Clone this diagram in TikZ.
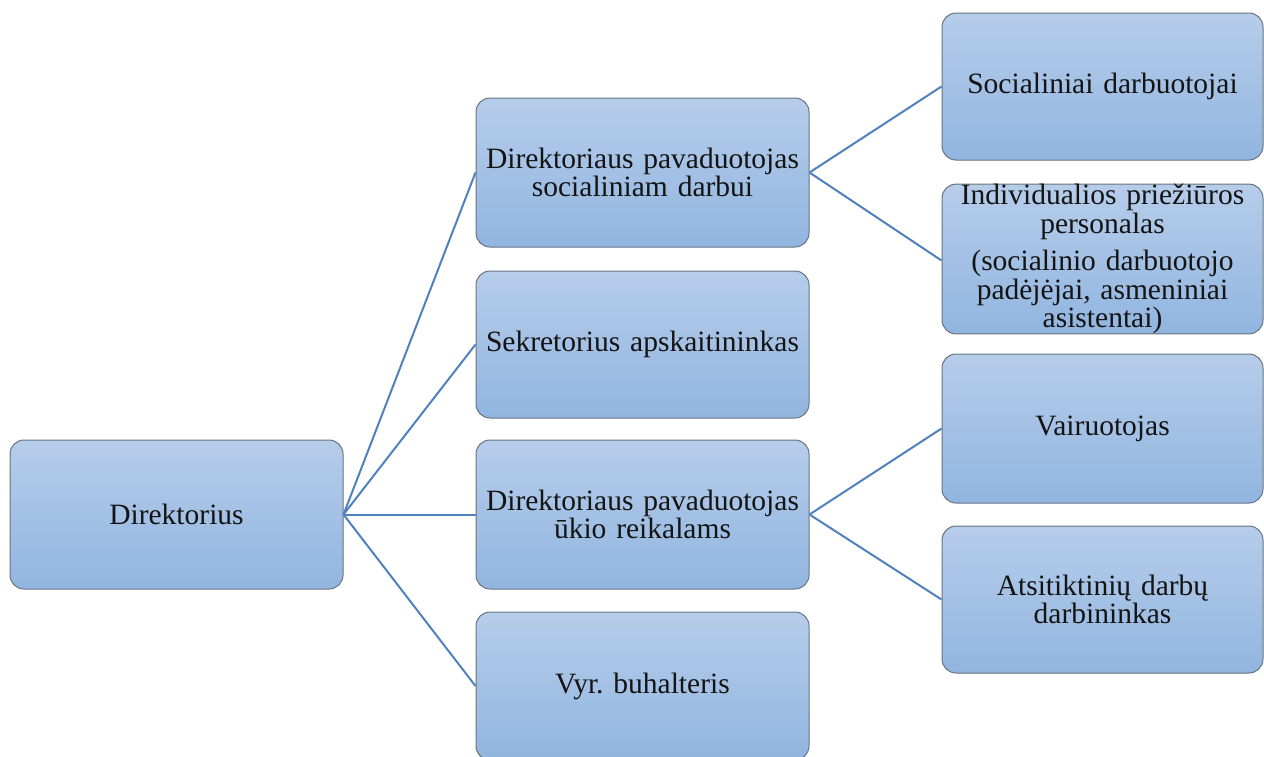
\documentclass[tikz,border=0pt]{standalone}
\usepackage{fontspec}
\setmainfont{Liberation Serif}
\frenchspacing
\definecolor{boxtop}{RGB}{182,205,234}
\definecolor{boxbot}{RGB}{145,181,224}
\definecolor{boxline}{RGB}{105,115,128}
\definecolor{conn}{RGB}{79,129,189}
\definecolor{txt}{RGB}{20,20,20}
\tikzset{
  orgbox/.style={rectangle, rounded corners=14pt, draw=boxline, line width=1pt,
    top color=boxtop, bottom color=boxbot, minimum height=148pt,
    align=center, text=txt,
    font=\fontsize{29.5}{28.5}\selectfont\frenchspacing, inner sep=0pt},
  midbox/.style={orgbox, minimum width=333pt, text width=333pt},
  rightbox/.style={orgbox, minimum width=321pt, text width=321pt},
  link/.style={draw=conn, line width=2pt}
}
\begin{document}
\begin{tikzpicture}[x=1pt,y=-1pt]
\clip (0,0) rectangle (1264,756);
\useasboundingbox (0,0) rectangle (1264,756);
\node[midbox, minimum height=149pt] (dir) at (176.5,514.5) {Direktorius};
\node[midbox, minimum height=149pt] (s1) at (642.5,172.5) {Direktoriaus pavaduotojas\\socialiniam darbui};
\node[midbox, minimum height=147pt] (s2) at (642.5,344.5) {Sekretorius apskaitininkas};
\node[midbox, minimum height=149pt] (s3) at (642.5,514.5) {Direktoriaus pavaduotojas\\ūkio reikalams};
\node[midbox, minimum height=148pt] (s4) at (642.5,686) {Vyr. buhalteris};
\node[rightbox, minimum height=147pt] (r1) at (1102.5,86.5) {Socialiniai darbuotojai};
\node[rightbox, minimum height=147pt] (r2) at (1102.5,259) {Individualios priežiūros\\personalas\\[9pt](socialinio darbuotojo\\padėjėjai, asmeniniai\\asistentai)};
\node[rightbox, minimum height=149pt] (r3) at (1102.5,428.5) {Vairuotojas};
\node[rightbox, minimum height=147pt] (r4) at (1102.5,599.5) {Atsitiktinių darbų\\darbininkas};
\draw[link] (dir.east) -- (s1.west);
\draw[link] (dir.east) -- (s2.west);
\draw[link] (dir.east) -- (s3.west);
\draw[link] (dir.east) -- (s4.west);
\draw[link] (s1.east) -- (r1.west);
\draw[link] (s1.east) -- ([yshift=-1.5pt]r2.west);
\draw[link] (s3.east) -- (r3.west);
\draw[link] (s3.east) -- (r4.west);
\end{tikzpicture}
\end{document}
